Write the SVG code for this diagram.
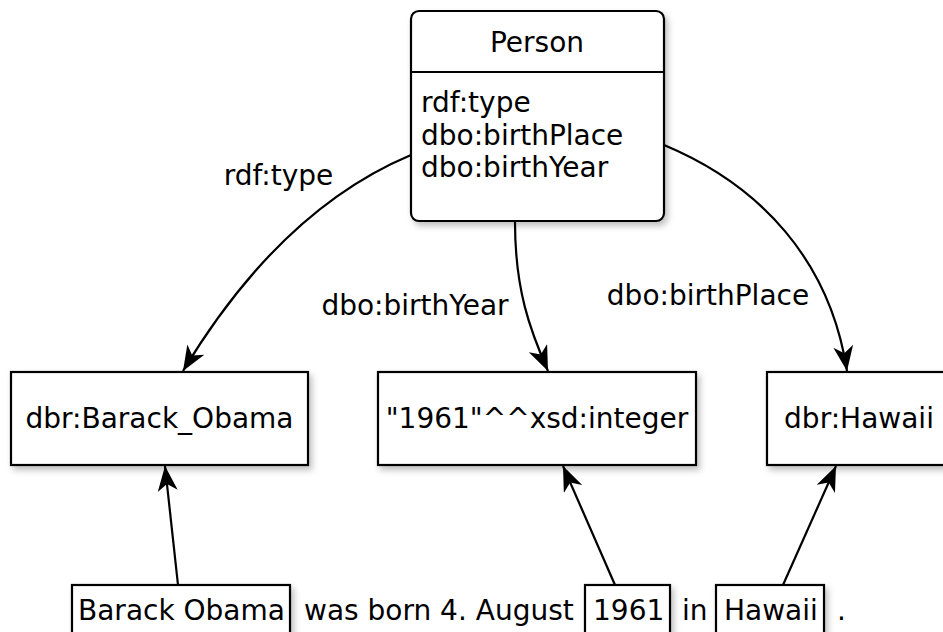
<svg xmlns="http://www.w3.org/2000/svg" width="943" height="632" viewBox="0 0 943 632">
  <style>
    text { font-family: "DejaVu Sans", "Liberation Sans", sans-serif; font-size: 28px; fill: #000; }
    .mid { text-anchor: middle; }
    .box { fill: #fff; stroke: #000; stroke-width: 2.2; }
    .edge { fill: none; stroke: #000; stroke-width: 2.2; }
  </style>
  <defs>
    <filter id="shadow" x="-10%" y="-10%" width="130%" height="140%">
      <feDropShadow dx="3" dy="4" stdDeviation="3" flood-color="#000" flood-opacity="0.25"/>
    </filter>
    <marker id="arrow" markerUnits="userSpaceOnUse" markerWidth="30" markerHeight="24" refX="25" refY="10" orient="auto">
      <path d="M0,0 L25,10 L0,20 L7,10 Z" fill="#000"/>
    </marker>
  </defs>

  <!-- class node -->
  <g id="person">
    <rect class="box" x="411" y="11" width="253" height="210" rx="8" filter="url(#shadow)"/>
    <line x1="411" y1="72" x2="664" y2="72" stroke="#000" stroke-width="2.2"/>
    <text class="mid" x="537" y="52">Person</text>
    <text x="421" y="112">rdf:type</text>
    <text x="421" y="145">dbo:birthPlace</text>
    <text x="421" y="177">dbo:birthYear</text>
  </g>

  <!-- resource nodes -->
  <g id="obama">
    <rect class="box" x="11" y="372" width="297" height="93" filter="url(#shadow)"/>
    <text class="mid" x="159.5" y="428">dbr:Barack_Obama</text>
  </g>
  <g id="year">
    <rect class="box" x="378" y="372" width="318" height="93" filter="url(#shadow)"/>
    <text class="mid" x="537" y="428">"1961"^^xsd:integer</text>
  </g>
  <g id="hawaii">
    <rect class="box" x="767" y="372" width="200" height="93" filter="url(#shadow)"/>
    <text class="mid" x="859" y="428">dbr:Hawaii</text>
  </g>

  <!-- sentence with marked mentions -->
  <g id="mention-obama">
    <rect class="box" x="72" y="585" width="218" height="60" filter="url(#shadow)"/>
    <text x="78" y="620">Barack Obama</text>
  </g>
  <g id="sentence-text">
    <text x="304" y="620">was born 4. August</text>
    <text x="682" y="620">in</text>
    <text x="837" y="620">.</text>
  </g>
  <g id="mention-year">
    <rect class="box" x="585" y="585" width="85" height="60" filter="url(#shadow)"/>
    <text x="593" y="620">1961</text>
  </g>
  <g id="mention-hawaii">
    <rect class="box" x="716" y="585" width="108" height="60" filter="url(#shadow)"/>
    <text x="724" y="620">Hawaii</text>
  </g>

  <!-- connectors -->
  <g id="connectors">
    <path class="edge" d="M411,155 Q280,210 183,371" marker-end="url(#arrow)"/>
    <path class="edge" d="M515,222 C515,290 530,330 548,371" marker-end="url(#arrow)"/>
    <path class="edge" d="M664,145 C760,185 830,260 847,371" marker-end="url(#arrow)"/>
    <path class="edge" d="M178,585 L165,466" marker-end="url(#arrow)"/>
    <path class="edge" d="M615,585 L563,466" marker-end="url(#arrow)"/>
    <path class="edge" d="M783,585 L836,466" marker-end="url(#arrow)"/>
    <text class="mid" x="278.5" y="185">rdf:type</text>
    <text class="mid" x="415" y="315">dbo:birthYear</text>
    <text class="mid" x="708" y="305">dbo:birthPlace</text>
  </g>
</svg>
